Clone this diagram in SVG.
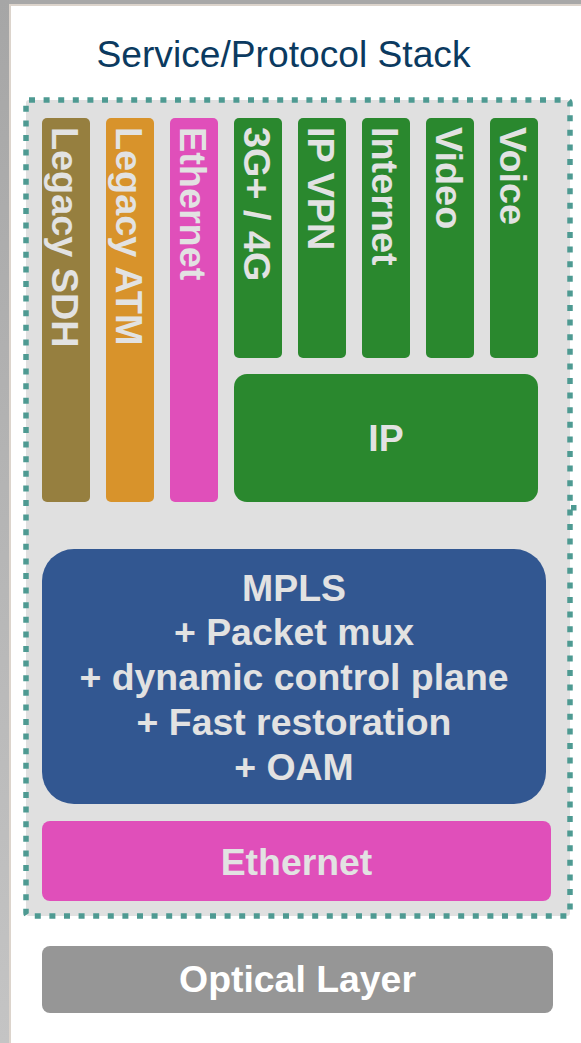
<svg xmlns="http://www.w3.org/2000/svg" width="581" height="1043" viewBox="0 0 581 1043">
  <defs>
    <linearGradient id="edge" x1="0" y1="0" x2="0" y2="1">
      <stop offset="0" stop-color="#a6a6a6"/>
      <stop offset="1" stop-color="#c4c4c4"/>
    </linearGradient>
    <style>
      .lbl { font-family: "Liberation Sans", Arial, sans-serif; font-weight: bold; font-size: 37.4px; fill: #e2e2e2; }
      .vlbl { font-size: 37.8px; }
      .ctr { text-anchor: middle; }
      .title { font-family: "Liberation Sans", Arial, sans-serif; font-size: 37.2px; fill: #0b3a60; text-anchor: middle; }
      .sdh { fill: #967f3f; }
      .atm { fill: #d8932b; }
      .eth { fill: #e04fba; }
      .grn { fill: #2a882e; }
      .mpls { fill: #325791; }
      .opt { fill: #969696; }
    </style>
  </defs>

  <!-- page background -->
  <rect x="0" y="0" width="581" height="1043" fill="#ffffff"/>
  <rect x="0" y="0" width="581" height="4" fill="#a8a8a8"/>
  <rect x="0" y="0" width="9" height="1043" fill="url(#edge)"/>
  <rect x="9" y="4" width="572" height="2" fill="#dcd4cc"/>
  <rect x="9" y="4" width="2" height="1039" fill="#dcd4cc"/>

  <g id="title">
    <text class="title" x="283.5" y="67">Service/Protocol Stack</text>
  </g>

  <g id="stack-container">
    <rect x="26" y="100" width="544" height="816" rx="3" fill="#e0e0e0" stroke="#4e9a92" stroke-width="5.5" stroke-dasharray="6 8.6"/>
    <rect x="571" y="505" width="5.5" height="5.5" fill="#4e9a92"/>
  </g>

  <g id="legacy-sdh">
    <rect class="sdh" x="42" y="118" width="48" height="384" rx="5"/>
    <text class="lbl vlbl" transform="translate(52,127) rotate(90)">Legacy SDH</text>
  </g>

  <g id="legacy-atm">
    <rect class="atm" x="106" y="118" width="48" height="384" rx="5"/>
    <text class="lbl vlbl" transform="translate(116,127) rotate(90)">Legacy ATM</text>
  </g>

  <g id="ethernet-service">
    <rect class="eth" x="170" y="118" width="48" height="384" rx="5"/>
    <text class="lbl vlbl" transform="translate(180,127) rotate(90)">Ethernet</text>
  </g>

  <g id="mobile-3g4g">
    <rect class="grn" x="234" y="118" width="48" height="240" rx="5"/>
    <text class="lbl vlbl" transform="translate(244,127) rotate(90)">3G+ / 4G</text>
  </g>

  <g id="ip-vpn">
    <rect class="grn" x="298" y="118" width="48" height="240" rx="5"/>
    <text class="lbl vlbl" transform="translate(308,127) rotate(90)">IP VPN</text>
  </g>

  <g id="internet">
    <rect class="grn" x="362" y="118" width="48" height="240" rx="5"/>
    <text class="lbl vlbl" transform="translate(372,127) rotate(90)">Internet</text>
  </g>

  <g id="video">
    <rect class="grn" x="426" y="118" width="48" height="240" rx="5"/>
    <text class="lbl vlbl" transform="translate(436,127) rotate(90)">Video</text>
  </g>

  <g id="voice">
    <rect class="grn" x="490" y="118" width="48" height="240" rx="5"/>
    <text class="lbl vlbl" transform="translate(500,127) rotate(90)">Voice</text>
  </g>

  <g id="ip">
    <rect class="grn" x="234" y="374" width="304" height="128" rx="13"/>
    <text class="lbl ctr" x="386" y="451">IP</text>
  </g>

  <g id="mpls">
    <rect class="mpls" x="42" y="549" width="504" height="255" rx="32"/>
    <text class="lbl ctr" x="294" y="601">MPLS</text>
    <text class="lbl ctr" x="294" y="645">+ Packet mux</text>
    <text class="lbl ctr" x="294" y="690">+ dynamic control plane</text>
    <text class="lbl ctr" x="294" y="735">+ Fast restoration</text>
    <text class="lbl ctr" x="294" y="780">+ OAM</text>
  </g>

  <g id="ethernet-transport">
    <rect class="eth" x="42" y="821" width="509" height="80" rx="8"/>
    <text class="lbl ctr" x="296.5" y="875">Ethernet</text>
  </g>

  <g id="optical-layer">
    <rect class="opt" x="42" y="946" width="511" height="67" rx="8"/>
    <text class="lbl ctr" x="297.5" y="992" style="fill:#ffffff">Optical Layer</text>
  </g>

  <g id="connectors"/>
</svg>
